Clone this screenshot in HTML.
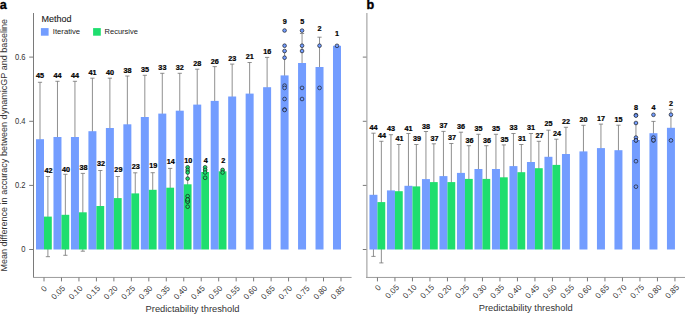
<!DOCTYPE html><html><head><meta charset="utf-8"><style>html,body{margin:0;padding:0;background:#fff;width:685px;height:314px;overflow:hidden}svg{display:block}text{font-family:"Liberation Sans",sans-serif}</style></head><body>
<svg width="685" height="314" viewBox="0 0 685 314">
<g stroke="#747474" stroke-width="0.8" fill="none"><path d="M40 82.3V196.1M37.9 82.3H42.1M37.9 196.1H42.1"/><path d="M57.47 81.3V192.7M55.37 81.3H59.57M55.37 192.7H59.57"/><path d="M74.94 81.3V192.7M72.84 81.3H77.04M72.84 192.7H77.04"/><path d="M92.41 78.2V184.2M90.31 78.2H94.51M90.31 184.2H94.51"/><path d="M109.88 78.2V177.8M107.78 78.2H111.98M107.78 177.8H111.98"/><path d="M127.35 76V172.6M125.25 76H129.45M125.25 172.6H129.45"/><path d="M144.82 75.3V158.7M142.72 75.3H146.92M142.72 158.7H146.92"/><path d="M162.29 73.3V153.9M160.19 73.3H164.39M160.19 153.9H164.39"/><path d="M179.76 73.3V148.1M177.66 73.3H181.86M177.66 148.1H181.86"/><path d="M197.23 69.2V140M195.13 69.2H199.33M195.13 140H199.33"/><path d="M214.7 66.6V135.2M212.6 66.6H216.8M212.6 135.2H216.8"/><path d="M232.17 64.1V128.9M230.07 64.1H234.27M230.07 128.9H234.27"/><path d="M249.64 62.5V124.7M247.54 62.5H251.74M247.54 124.7H251.74"/><path d="M267.11 57.4V117M265.01 57.4H269.21M265.01 117H269.21"/><path d="M284.58 51V99.8M282.48 51H286.68M282.48 99.8H286.68"/><path d="M302.05 33.5V92.5M299.95 33.5H304.15M299.95 92.5H304.15"/><path d="M319.52 37.2V96.8M317.42 37.2H321.62M317.42 96.8H321.62"/><path d="M47.9 176.5V256.7M45.8 176.5H50M45.8 256.7H50"/><path d="M65.37 174.3V255.3M63.27 174.3H67.47M63.27 255.3H67.47"/><path d="M82.84 173.4V251.2M80.74 173.4H84.94M80.74 251.2H84.94"/><path d="M100.31 170.5V241.5M98.21 170.5H102.41M98.21 241.5H102.41"/><path d="M117.78 176.5V219.7M115.68 176.5H119.88M115.68 219.7H119.88"/><path d="M135.25 172.8V214M133.15 172.8H137.35M133.15 214H137.35"/><path d="M152.72 172.7V206.9M150.62 172.7H154.82M150.62 206.9H154.82"/><path d="M170.19 168.4V207M168.09 168.4H172.29M168.09 207H172.29"/><path d="M187.66 171.6V197M185.56 171.6H189.76M185.56 197H189.76"/><path d="M205.13 169.5V174.5M203.03 169.5H207.23M203.03 174.5H207.23"/><path d="M222.6 170.2V172.4M220.5 170.2H224.7M220.5 172.4H224.7"/></g>
<g><rect x="36" y="139.2" width="8.0" height="110.3" fill="#739dff"/><rect x="53.47" y="137" width="8.0" height="112.5" fill="#739dff"/><rect x="70.94" y="137" width="8.0" height="112.5" fill="#739dff"/><rect x="88.41" y="131.2" width="8.0" height="118.3" fill="#739dff"/><rect x="105.88" y="128" width="8.0" height="121.5" fill="#739dff"/><rect x="123.35" y="124.3" width="8.0" height="125.2" fill="#739dff"/><rect x="140.82" y="117" width="8.0" height="132.5" fill="#739dff"/><rect x="158.29" y="113.6" width="8.0" height="135.9" fill="#739dff"/><rect x="175.76" y="110.7" width="8.0" height="138.8" fill="#739dff"/><rect x="193.23" y="104.6" width="8.0" height="144.9" fill="#739dff"/><rect x="210.7" y="100.9" width="8.0" height="148.6" fill="#739dff"/><rect x="228.17" y="96.5" width="8.0" height="153" fill="#739dff"/><rect x="245.64" y="93.6" width="8.0" height="155.9" fill="#739dff"/><rect x="263.11" y="87.2" width="8.0" height="162.3" fill="#739dff"/><rect x="280.58" y="75.4" width="8.0" height="174.1" fill="#739dff"/><rect x="298.05" y="63" width="8.0" height="186.5" fill="#739dff"/><rect x="315.52" y="67" width="8.0" height="182.5" fill="#739dff"/><rect x="332.99" y="45.8" width="8.0" height="203.7" fill="#739dff"/><rect x="44" y="216.6" width="7.8" height="32.9" fill="#1ede6e"/><rect x="61.47" y="214.8" width="7.8" height="34.7" fill="#1ede6e"/><rect x="78.94" y="212.3" width="7.8" height="37.2" fill="#1ede6e"/><rect x="96.41" y="206" width="7.8" height="43.5" fill="#1ede6e"/><rect x="113.88" y="198.1" width="7.8" height="51.4" fill="#1ede6e"/><rect x="131.35" y="193.4" width="7.8" height="56.1" fill="#1ede6e"/><rect x="148.82" y="189.8" width="7.8" height="59.7" fill="#1ede6e"/><rect x="166.29" y="187.7" width="7.8" height="61.8" fill="#1ede6e"/><rect x="183.76" y="184.3" width="7.8" height="65.2" fill="#1ede6e"/><rect x="201.23" y="172" width="7.8" height="77.5" fill="#1ede6e"/><rect x="218.7" y="171.3" width="7.8" height="78.2" fill="#1ede6e"/></g>
<g stroke="#151515" stroke-width="0.65"><circle cx="284.58" cy="30.5" r="1.85" fill="#739dff"/><circle cx="284.58" cy="45.7" r="1.85" fill="#739dff"/><circle cx="284.58" cy="51" r="1.85" fill="#739dff"/><circle cx="284.58" cy="57.7" r="1.85" fill="#739dff"/><circle cx="284.58" cy="85.6" r="1.85" fill="#739dff"/><circle cx="284.58" cy="87.9" r="1.85" fill="#739dff"/><circle cx="284.58" cy="99" r="1.85" fill="#739dff"/><circle cx="284.58" cy="109.5" r="1.85" fill="#739dff"/><circle cx="284.58" cy="110" r="1.85" fill="#739dff"/><circle cx="302.05" cy="30.6" r="1.85" fill="#739dff"/><circle cx="302.05" cy="45.7" r="1.85" fill="#739dff"/><circle cx="302.05" cy="51" r="1.85" fill="#739dff"/><circle cx="302.05" cy="87.9" r="1.85" fill="#739dff"/><circle cx="302.05" cy="99" r="1.85" fill="#739dff"/><circle cx="319.52" cy="45.7" r="1.85" fill="#739dff"/><circle cx="319.52" cy="87.9" r="1.85" fill="#739dff"/><circle cx="336.99" cy="45.8" r="1.85" fill="#739dff"/><circle cx="187.66" cy="167.3" r="1.85" fill="#1ede6e"/><circle cx="187.66" cy="169.9" r="1.85" fill="#1ede6e"/><circle cx="187.66" cy="172.5" r="1.85" fill="#1ede6e"/><circle cx="187.66" cy="178.6" r="1.85" fill="#1ede6e"/><circle cx="187.66" cy="196.2" r="1.85" fill="#1ede6e"/><circle cx="187.66" cy="199.7" r="1.85" fill="#1ede6e"/><circle cx="187.66" cy="201.4" r="1.85" fill="#1ede6e"/><circle cx="187.66" cy="201.6" r="1.85" fill="#1ede6e"/><circle cx="187.66" cy="206.7" r="1.85" fill="#1ede6e"/><circle cx="187.66" cy="199.5" r="1.85" fill="#1ede6e"/><circle cx="205.13" cy="167.3" r="1.85" fill="#1ede6e"/><circle cx="205.13" cy="169.9" r="1.85" fill="#1ede6e"/><circle cx="205.13" cy="172.5" r="1.85" fill="#1ede6e"/><circle cx="205.13" cy="177.8" r="1.85" fill="#1ede6e"/><circle cx="222.6" cy="169.9" r="1.85" fill="#1ede6e"/><circle cx="222.6" cy="172.5" r="1.85" fill="#1ede6e"/></g>
<g font-weight="bold" font-size="6.3" text-anchor="middle" fill="#000" stroke="#000" stroke-width="0.2"><text transform="translate(40.1 78.3) scale(1.15 1)">45</text><text transform="translate(57.57 77.6) scale(1.15 1)">44</text><text transform="translate(75.04 77.6) scale(1.15 1)">44</text><text transform="translate(92.51 74.5) scale(1.15 1)">41</text><text transform="translate(109.98 74.5) scale(1.15 1)">40</text><text transform="translate(127.45 72.6) scale(1.15 1)">38</text><text transform="translate(144.92 72) scale(1.15 1)">35</text><text transform="translate(162.39 70.1) scale(1.15 1)">33</text><text transform="translate(179.86 70.1) scale(1.15 1)">32</text><text transform="translate(197.33 65.8) scale(1.15 1)">28</text><text transform="translate(214.8 63.9) scale(1.15 1)">26</text><text transform="translate(232.27 60.7) scale(1.15 1)">23</text><text transform="translate(249.74 58.8) scale(1.15 1)">21</text><text transform="translate(267.21 54.1) scale(1.15 1)">16</text><text transform="translate(284.68 24) scale(1.15 1)">9</text><text transform="translate(302.15 24) scale(1.15 1)">5</text><text transform="translate(319.62 31.1) scale(1.15 1)">2</text><text transform="translate(337.09 35.7) scale(1.15 1)">1</text><text transform="translate(48.5 173.4) scale(1.15 1)">42</text><text transform="translate(65.97 171.5) scale(1.15 1)">40</text><text transform="translate(83.44 170.4) scale(1.15 1)">38</text><text transform="translate(100.91 166.1) scale(1.15 1)">32</text><text transform="translate(118.38 171.6) scale(1.15 1)">29</text><text transform="translate(135.85 169) scale(1.15 1)">23</text><text transform="translate(153.32 168.2) scale(1.15 1)">19</text><text transform="translate(170.79 164) scale(1.15 1)">14</text><text transform="translate(188.26 162.6) scale(1.15 1)">10</text><text transform="translate(205.73 162.8) scale(1.15 1)">4</text><text transform="translate(223.2 162.8) scale(1.15 1)">2</text></g>
<path d="M33.5 13V277" stroke="#7a7a7a" stroke-width="1" fill="none"/>
<path d="M33.0 277.45H351.6" stroke="#9c9c9c" stroke-width="1" fill="none"/>
<path d="M29.2 57.1H33.5M29.2 121.3H33.5M29.2 185.4H33.5M29.2 249.5H33.5" stroke="#7a7a7a" stroke-width="1"/>
<g font-size="8.2" text-anchor="end" fill="#333"><text transform="translate(25.5 59.95) scale(0.93 1)">0.6</text><text transform="translate(25.5 124.15) scale(0.93 1)">0.4</text><text transform="translate(25.5 188.25) scale(0.93 1)">0.2</text><text transform="translate(25.5 252.35) scale(0.93 1)">0</text></g>
<path d="M44 277.5V281.4M61.47 277.5V281.4M78.94 277.5V281.4M96.41 277.5V281.4M113.88 277.5V281.4M131.35 277.5V281.4M148.82 277.5V281.4M166.29 277.5V281.4M183.76 277.5V281.4M201.23 277.5V281.4M218.7 277.5V281.4M236.17 277.5V281.4M253.64 277.5V281.4M271.11 277.5V281.4M288.58 277.5V281.4M306.05 277.5V281.4M323.52 277.5V281.4M340.99 277.5V281.4" stroke="#7a7a7a" stroke-width="1"/>
<g font-size="8.05" text-anchor="end" fill="#333"><text transform="translate(47.5 289.1) rotate(-45)">0</text><text transform="translate(65.67 288.8) rotate(-45)">0.05</text><text transform="translate(83.14 288.8) rotate(-45)">0.10</text><text transform="translate(100.61 288.8) rotate(-45)">0.15</text><text transform="translate(118.08 288.8) rotate(-45)">0.20</text><text transform="translate(135.55 288.8) rotate(-45)">0.25</text><text transform="translate(153.02 288.8) rotate(-45)">0.30</text><text transform="translate(170.49 288.8) rotate(-45)">0.35</text><text transform="translate(187.96 288.8) rotate(-45)">0.40</text><text transform="translate(205.43 288.8) rotate(-45)">0.45</text><text transform="translate(222.9 288.8) rotate(-45)">0.50</text><text transform="translate(240.37 288.8) rotate(-45)">0.55</text><text transform="translate(257.84 288.8) rotate(-45)">0.60</text><text transform="translate(275.31 288.8) rotate(-45)">0.65</text><text transform="translate(292.78 288.8) rotate(-45)">0.70</text><text transform="translate(310.25 288.8) rotate(-45)">0.75</text><text transform="translate(327.72 288.8) rotate(-45)">0.80</text><text transform="translate(345.19 288.8) rotate(-45)">0.85</text></g>
<text x="192.55" y="312.2" font-size="9.35" text-anchor="middle" fill="#333">Predictability threshold</text>
<g stroke="#747474" stroke-width="0.8" fill="none"><path d="M373.45 133.2V256.4M371.35 133.2H375.55M371.35 256.4H375.55"/><path d="M390.95 134.7V246.1M388.85 134.7H393.05M388.85 246.1H393.05"/><path d="M408.45 133.5V238.1M406.35 133.5H410.55M406.35 238.1H410.55"/><path d="M425.95 131.5V226.7M423.85 131.5H428.05M423.85 226.7H428.05"/><path d="M443.45 131.4V220.8M441.35 131.4H445.55M441.35 220.8H445.55"/><path d="M460.95 132.2V213.6M458.85 132.2H463.05M458.85 213.6H463.05"/><path d="M478.45 134.3V203.7M476.35 134.3H480.55M476.35 203.7H480.55"/><path d="M495.95 134.3V203.7M493.85 134.3H498.05M493.85 203.7H498.05"/><path d="M513.45 133.5V198.7M511.35 133.5H515.55M511.35 198.7H515.55"/><path d="M530.95 133.5V190.5M528.85 133.5H533.05M528.85 190.5H533.05"/><path d="M548.45 130.2V183.4M546.35 130.2H550.55M546.35 183.4H550.55"/><path d="M565.95 127.3V180.7M563.85 127.3H568.05M563.85 180.7H568.05"/><path d="M583.45 125.3V177.5M581.35 125.3H585.55M581.35 177.5H585.55"/><path d="M600.95 124.1V172.1M598.85 124.1H603.05M598.85 172.1H603.05"/><path d="M618.45 125.2V175.2M616.35 125.2H620.55M616.35 175.2H620.55"/><path d="M635.95 123V157M633.85 123H638.05M633.85 157H638.05"/><path d="M653.45 121.4V145M651.35 121.4H655.55M651.35 145H655.55"/><path d="M670.95 109.4V146.2M668.85 109.4H673.05M668.85 146.2H673.05"/><path d="M381.35 141.3V262.9M379.25 141.3H383.45M379.25 262.9H383.45"/><path d="M398.85 144.5V237.9M396.75 144.5H400.95M396.75 237.9H400.95"/><path d="M416.35 144.5V228.3M414.25 144.5H418.45M414.25 228.3H418.45"/><path d="M433.85 143.8V220.4M431.75 143.8H435.95M431.75 220.4H435.95"/><path d="M451.35 143.5V220.7M449.25 143.5H453.45M449.25 220.7H453.45"/><path d="M468.85 145.7V212.1M466.75 145.7H470.95M466.75 212.1H470.95"/><path d="M486.35 145.7V212.1M484.25 145.7H488.45M484.25 212.1H488.45"/><path d="M503.85 144.9V209.7M501.75 144.9H505.95M501.75 209.7H505.95"/><path d="M521.35 144.5V199.9M519.25 144.5H523.45M519.25 199.9H523.45"/><path d="M538.85 141.3V195.1M536.75 141.3H540.95M536.75 195.1H540.95"/><path d="M556.35 139.2V190.6M554.25 139.2H558.45M554.25 190.6H558.45"/></g>
<g><rect x="369.45" y="194.8" width="8.0" height="54.7" fill="#739dff"/><rect x="386.95" y="190.4" width="8.0" height="59.1" fill="#739dff"/><rect x="404.45" y="185.8" width="8.0" height="63.7" fill="#739dff"/><rect x="421.95" y="179.1" width="8.0" height="70.4" fill="#739dff"/><rect x="439.45" y="176.1" width="8.0" height="73.4" fill="#739dff"/><rect x="456.95" y="172.9" width="8.0" height="76.6" fill="#739dff"/><rect x="474.45" y="169" width="8.0" height="80.5" fill="#739dff"/><rect x="491.95" y="169" width="8.0" height="80.5" fill="#739dff"/><rect x="509.45" y="166.1" width="8.0" height="83.4" fill="#739dff"/><rect x="526.95" y="162" width="8.0" height="87.5" fill="#739dff"/><rect x="544.45" y="156.8" width="8.0" height="92.7" fill="#739dff"/><rect x="561.95" y="154" width="8.0" height="95.5" fill="#739dff"/><rect x="579.45" y="151.4" width="8.0" height="98.1" fill="#739dff"/><rect x="596.95" y="148.1" width="8.0" height="101.4" fill="#739dff"/><rect x="614.45" y="150.2" width="8.0" height="99.3" fill="#739dff"/><rect x="631.95" y="140" width="8.0" height="109.5" fill="#739dff"/><rect x="649.45" y="133.2" width="8.0" height="116.3" fill="#739dff"/><rect x="666.95" y="127.8" width="8.0" height="121.7" fill="#739dff"/><rect x="377.45" y="202.1" width="7.8" height="47.4" fill="#1ede6e"/><rect x="394.95" y="191.2" width="7.8" height="58.3" fill="#1ede6e"/><rect x="412.45" y="186.4" width="7.8" height="63.1" fill="#1ede6e"/><rect x="429.95" y="182.1" width="7.8" height="67.4" fill="#1ede6e"/><rect x="447.45" y="182.1" width="7.8" height="67.4" fill="#1ede6e"/><rect x="464.95" y="178.9" width="7.8" height="70.6" fill="#1ede6e"/><rect x="482.45" y="178.9" width="7.8" height="70.6" fill="#1ede6e"/><rect x="499.95" y="177.3" width="7.8" height="72.2" fill="#1ede6e"/><rect x="517.45" y="172.2" width="7.8" height="77.3" fill="#1ede6e"/><rect x="534.95" y="168.2" width="7.8" height="81.3" fill="#1ede6e"/><rect x="552.45" y="164.9" width="7.8" height="84.6" fill="#1ede6e"/></g>
<g stroke="#151515" stroke-width="0.65"><circle cx="635.95" cy="115.1" r="1.85" fill="#739dff"/><circle cx="635.95" cy="115.6" r="1.85" fill="#739dff"/><circle cx="635.95" cy="123" r="1.85" fill="#739dff"/><circle cx="635.95" cy="137.6" r="1.85" fill="#739dff"/><circle cx="635.95" cy="140.4" r="1.85" fill="#739dff"/><circle cx="635.95" cy="140.4" r="1.85" fill="#739dff"/><circle cx="635.95" cy="161.2" r="1.85" fill="#739dff"/><circle cx="635.95" cy="186.7" r="1.85" fill="#739dff"/><circle cx="653.45" cy="114.8" r="1.85" fill="#739dff"/><circle cx="653.45" cy="137.6" r="1.85" fill="#739dff"/><circle cx="653.45" cy="140.4" r="1.85" fill="#739dff"/><circle cx="653.45" cy="140.2" r="1.85" fill="#739dff"/><circle cx="670.95" cy="114.7" r="1.85" fill="#739dff"/><circle cx="670.95" cy="140.4" r="1.85" fill="#739dff"/></g>
<g font-weight="bold" font-size="6.3" text-anchor="middle" fill="#000" stroke="#000" stroke-width="0.2"><text transform="translate(373.55 129.8) scale(1.15 1)">44</text><text transform="translate(391.05 131.3) scale(1.15 1)">43</text><text transform="translate(408.55 131) scale(1.15 1)">41</text><text transform="translate(426.05 128.7) scale(1.15 1)">38</text><text transform="translate(443.55 128.1) scale(1.15 1)">37</text><text transform="translate(461.05 129) scale(1.15 1)">36</text><text transform="translate(478.55 131) scale(1.15 1)">35</text><text transform="translate(496.05 131) scale(1.15 1)">35</text><text transform="translate(513.55 130.1) scale(1.15 1)">33</text><text transform="translate(531.05 130.1) scale(1.15 1)">31</text><text transform="translate(548.55 126.4) scale(1.15 1)">25</text><text transform="translate(566.05 123.9) scale(1.15 1)">22</text><text transform="translate(583.55 121.8) scale(1.15 1)">20</text><text transform="translate(601.05 120.6) scale(1.15 1)">17</text><text transform="translate(618.55 122.1) scale(1.15 1)">15</text><text transform="translate(636.05 109.9) scale(1.15 1)">8</text><text transform="translate(653.55 109.8) scale(1.15 1)">4</text><text transform="translate(671.05 106) scale(1.15 1)">2</text><text transform="translate(381.95 137.8) scale(1.15 1)">44</text><text transform="translate(399.45 141.1) scale(1.15 1)">41</text><text transform="translate(416.95 141.1) scale(1.15 1)">39</text><text transform="translate(434.45 140.8) scale(1.15 1)">37</text><text transform="translate(451.95 140) scale(1.15 1)">37</text><text transform="translate(469.45 143) scale(1.15 1)">36</text><text transform="translate(486.95 142.7) scale(1.15 1)">36</text><text transform="translate(504.45 141.5) scale(1.15 1)">35</text><text transform="translate(521.95 140.8) scale(1.15 1)">31</text><text transform="translate(539.45 137.6) scale(1.15 1)">27</text><text transform="translate(556.95 136.4) scale(1.15 1)">24</text></g>
<path d="M366.9 13V277" stroke="#787878" stroke-width="0.8" fill="none"/>
<path d="M366.0 277.45H685" stroke="#9c9c9c" stroke-width="1" fill="none"/>
<path d="M362.8 57.1H366.5M362.8 121.3H366.5M362.8 185.4H366.5M362.8 249.5H366.5" stroke="#7a7a7a" stroke-width="1"/>
<path d="M377.45 277.5V281.4M394.95 277.5V281.4M412.45 277.5V281.4M429.95 277.5V281.4M447.45 277.5V281.4M464.95 277.5V281.4M482.45 277.5V281.4M499.95 277.5V281.4M517.45 277.5V281.4M534.95 277.5V281.4M552.45 277.5V281.4M569.95 277.5V281.4M587.45 277.5V281.4M604.95 277.5V281.4M622.45 277.5V281.4M639.95 277.5V281.4M657.45 277.5V281.4M674.95 277.5V281.4" stroke="#7a7a7a" stroke-width="1"/>
<g font-size="8.05" text-anchor="end" fill="#333"><text transform="translate(381.35 288.2) rotate(-45)">0</text><text transform="translate(399.55 287.9) rotate(-45)">0.05</text><text transform="translate(417.05 287.9) rotate(-45)">0.10</text><text transform="translate(434.55 287.9) rotate(-45)">0.15</text><text transform="translate(452.05 287.9) rotate(-45)">0.20</text><text transform="translate(469.55 287.9) rotate(-45)">0.25</text><text transform="translate(487.05 287.9) rotate(-45)">0.30</text><text transform="translate(504.55 287.9) rotate(-45)">0.35</text><text transform="translate(522.05 287.9) rotate(-45)">0.40</text><text transform="translate(539.55 287.9) rotate(-45)">0.45</text><text transform="translate(557.05 287.9) rotate(-45)">0.50</text><text transform="translate(574.55 287.9) rotate(-45)">0.55</text><text transform="translate(592.05 287.9) rotate(-45)">0.60</text><text transform="translate(609.55 287.9) rotate(-45)">0.65</text><text transform="translate(627.05 287.9) rotate(-45)">0.70</text><text transform="translate(644.55 287.9) rotate(-45)">0.75</text><text transform="translate(662.05 287.9) rotate(-45)">0.80</text><text transform="translate(679.55 287.9) rotate(-45)">0.85</text></g>
<text x="525.75" y="310.9" font-size="9.35" text-anchor="middle" fill="#333">Predictability threshold</text>
<text transform="translate(6.5 145.3) rotate(-90)" font-size="9.05" text-anchor="middle" fill="#333">Mean difference in accuracy between dynamicGP and baseline</text>
<text x="-0.3" y="9" font-size="12.6" font-weight="bold" fill="#000" stroke="#000" stroke-width="0.35">a</text>
<text x="366.4" y="9" font-size="12.6" font-weight="bold" fill="#000" stroke="#000" stroke-width="0.35">b</text>
<text x="41.5" y="22.4" font-size="9" fill="#1a1a1a" stroke="#1a1a1a" stroke-width="0.1">Method</text>
<rect x="40.9" y="28.1" width="7.7" height="7.6" fill="#739dff"/>
<text x="52.8" y="34.4" font-size="7.7" fill="#222">Iterative</text>
<rect x="93.1" y="28.1" width="7.7" height="7.6" fill="#1ede6e"/>
<text x="104.6" y="34.4" font-size="7.5" fill="#222">Recursive</text>
</svg></body></html>
